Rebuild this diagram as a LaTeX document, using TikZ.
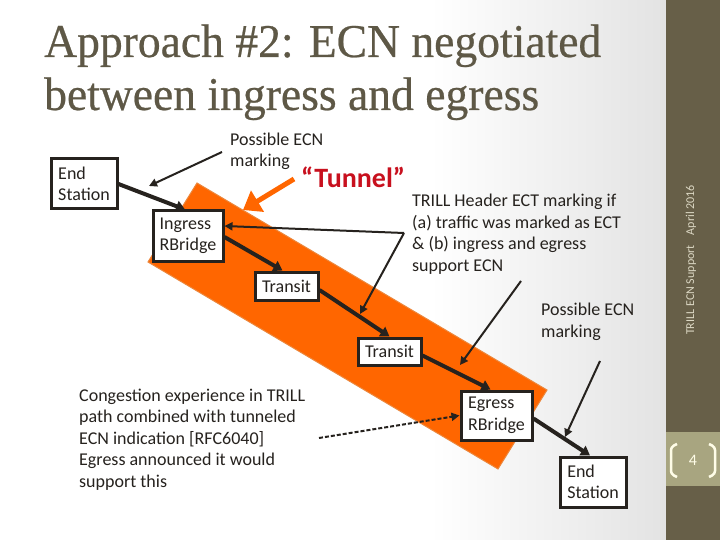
\documentclass[tikz,border=0pt]{standalone}
\usepackage{fontspec}
\setmainfont{Carlito}
\newfontfamily\titlefont[FakeBold=0.5]{Liberation Serif}
\usetikzlibrary{arrows.meta}
\definecolor{orng}{RGB}{255,102,0}
\definecolor{orngedge}{RGB}{236,135,60}
\definecolor{side}{RGB}{103,95,72}
\definecolor{pagebox}{RGB}{168,165,128}
\definecolor{titlec}{RGB}{94,88,70}
\definecolor{tunnelred}{RGB}{200,16,30}
\definecolor{ink}{RGB}{38,34,30}
\definecolor{sidetext}{RGB}{220,216,196}
\definecolor{cream}{RGB}{255,253,232}
\begin{document}
\begin{tikzpicture}[x=1pt,y=-1pt,
  box/.style={draw=ink, line width=3pt, fill=white, align=left, inner sep=0pt,
    font=\fontsize{18}{21.5}\selectfont, text=ink},
  lbl/.style={align=left, inner sep=0pt, anchor=base west,
    font=\fontsize{18}{21.5}\selectfont, text=ink},
  flow/.style={draw=ink, line width=4pt, -{Triangle[length=9pt,width=11pt]}},
  note/.style={draw=ink, line width=2pt, -{Triangle[length=8pt,width=8pt]}},
]
\useasboundingbox (0,0) rectangle (720,540);
% background
\fill[white] (0,0) rectangle (666,540);
\shade[left color=white, right color=black!11] (430,0) rectangle (666,540);
\fill[side] (666,0) rectangle (720,540);
\fill[pagebox] (666,432) rectangle (720,486);
% footer
\node[rotate=90, text=sidetext, inner sep=0pt, font=\fontsize{12}{12}\selectfont] (foot) at (691,260)
  {TRILL ECN Support\hspace{10pt}April 2016};
\draw[cream, line width=2.5pt, rounded corners=3pt] (677,444) -- (671,447) -- (671,474) -- (677,477);
\draw[cream, line width=2.5pt, rounded corners=3pt] (709,444) -- (715,447) -- (715,474) -- (709,477);
\node[text=cream, inner sep=0pt, font=\fontsize{16}{16}\selectfont] (pg) at (693,460) {4};
% title
\node[anchor=base west, inner sep=0pt, text=titlec, font=\titlefont\fontsize{47}{53}\selectfont] (t1) at (44,57)
  {\scalebox{0.97}[1]{Approach \#2: ECN negotiated}};
\node[anchor=base west, inner sep=0pt, text=titlec, font=\titlefont\fontsize{47}{53}\selectfont] (t2) at (44,110)
  {\scalebox{0.97}[1]{between ingress and egress}};
% tunnel band
\fill[orng, draw=orngedge, line width=1pt] (197,183) -- (547,390) -- (498,469) -- (148,262) -- cycle;
\coordinate (tuns) at (294,179);
\coordinate (tunt) at (243,210);
\draw[orng, line width=5pt, -{Triangle[length=17pt,width=24pt]}] (tuns) -- (tunt);
\node[anchor=base west, inner sep=0pt, text=tunnelred, font=\bfseries\fontsize{28}{28}\selectfont] (tun) at (301,188) {“Tunnel”};
% boxes
\node[box, minimum width=66pt, minimum height=50pt] (end1) at (84,184) {End\\Station};
\node[box, minimum width=70pt, minimum height=50pt] (ingress) at (188,236) {Ingress\\RBridge};
\node[box, minimum width=63pt, minimum height=28pt] (transit1) at (286.5,286) {Transit};
\node[box, minimum width=63pt, minimum height=27pt] (transit2) at (389.5,351.5) {Transit};
\node[box, minimum width=71pt, minimum height=49pt] (egress) at (496.5,415.5) {Egress\\RBridge};
\node[box, minimum width=66pt, minimum height=50pt] (end2) at (593,482) {End\\Station};
% flow
\draw[flow] (end1.east) -- ([xshift=-3pt]ingress.north);
\draw[flow] ([yshift=-1pt]ingress.east) -- ([xshift=-4pt]transit1.north);
\draw[flow] ([yshift=-4pt]transit1.east) -- (transit2.north);
\draw[flow] ([yshift=-4pt]transit2.east) -- ([xshift=-6pt]egress.north);
\draw[flow] ([yshift=-3pt]egress.east) -- ([xshift=-3pt]end2.north);
% labels (anchor = baseline of the last line)
\node[lbl] (pm1) at (230,167) {Possible ECN\\marking};
\node[lbl] (hdr) at (412,271) {TRILL Header ECT marking if\\(a) traffic was marked as ECT\\\& (b) ingress and egress\\support ECN};
\node[lbl] (pm2) at (541,337) {Possible ECN\\marking};
\node[lbl] (cong) at (79,487) {Congestion experience in TRILL\\path combined with tunneled\\ECN indication [RFC6040]\\Egress announced it would\\support this};
% notes
\coordinate (pm1s) at (222,152);
\coordinate (pm1e) at (149,186);
\draw[note] (pm1s) -- (pm1e);
\coordinate (apex) at (404,233);
\coordinate (mark12) at (360,314);
\draw[note] (apex) -- ([yshift=10pt]ingress.east);
\draw[note] (apex) -- (mark12);
\coordinate (hdrs) at (521,281);
\coordinate (mark23) at (460,365);
\draw[note] (hdrs) -- (mark23);
\coordinate (pm2s) at (600,361);
\coordinate (pm2e) at (565,437);
\draw[note] (pm2s) -- (pm2e);
\coordinate (congs) at (319,438);
\draw[note, dash pattern=on 4pt off 2pt] (congs) -- (egress.west);
\end{tikzpicture}
\end{document}
